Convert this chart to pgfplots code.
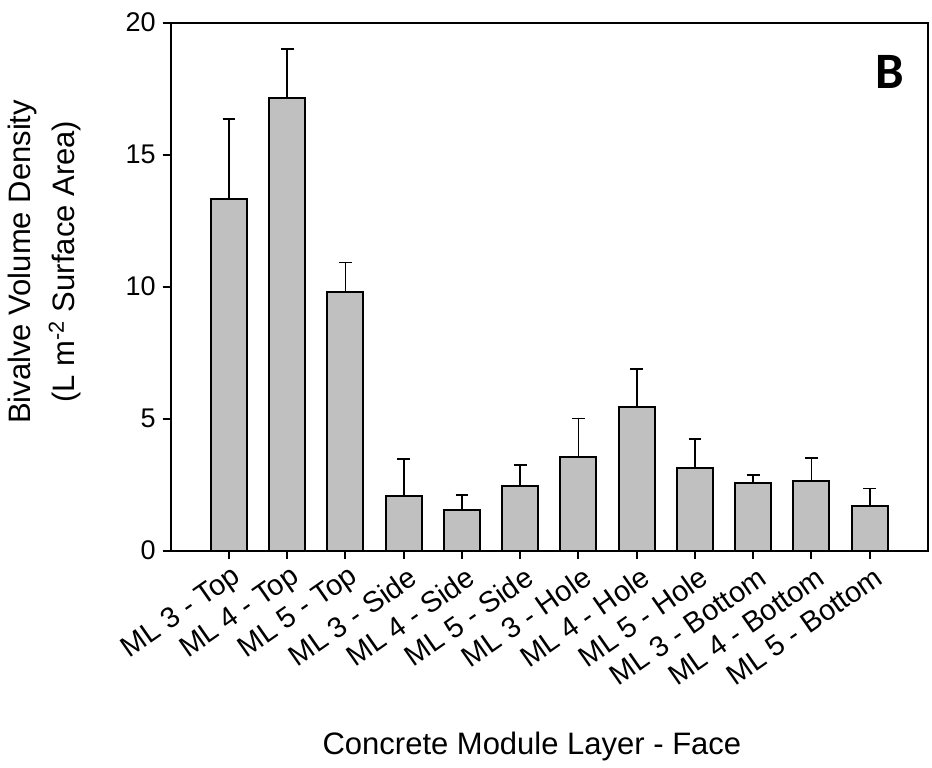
\documentclass[border=0pt]{standalone}
\usepackage{fontspec}
\setmainfont{Liberation Sans}
\newfontfamily\calib{Carlito}
\usepackage{pgfplots}
\usepackage{pgfplotstable}
\pgfplotsset{compat=1.18}
\definecolor{barfill}{RGB}{192,192,192}

\pgfplotstableread{
x   y      err
0   13.32  3.04
1   17.14  1.86
2   9.81   1.11
3   2.08   1.38
4   1.53   0.57
5   2.44   0.81
6   3.55   1.46
7   5.45   1.42
8   3.12   1.11
9   2.55   0.32
10  2.64   0.86
11  1.70   0.66
}\density

\begin{document}
\begin{tikzpicture}
\begin{axis}[
    scale only axis,
    width=378.7pt, height=264pt,
    xmin=-1, xmax=12,
    ymin=0, ymax=20,
    ytick={0,5,10,15,20},
    xtick={0,...,11},
    xticklabels={ML 3 - Top, ML 4 - Top, ML 5 - Top, ML 3 - Side, ML 4 - Side, ML 5 - Side,
                 ML 3 - Hole, ML 4 - Hole, ML 5 - Hole, ML 3 - Bottom, ML 4 - Bottom, ML 5 - Bottom},
    xtick pos=bottom, ytick pos=left,
    tick align=outside,
    major tick length=4pt,
    every tick/.style={black, line width=1pt},
    axis line style={line width=1pt},
    /pgf/number format/assume math mode=true,
    yticklabel style={font=\fontsize{13.5}{15}\selectfont},
    xticklabel style={font=\fontsize{14.5}{16}\selectfont, rotate=35, anchor=east, inner sep=1pt, yshift=-9pt, xshift=0.5pt},
    xlabel={Concrete Module Layer - Face},
    xlabel style={font=\fontsize{15.5}{18}\selectfont, at={(rel axis cs:0.477,0)}, anchor=base, yshift=-102pt},
    ylabel={Bivalve Volume Density\\[4pt](L m\textsuperscript{-2} Surface Area)},
    ylabel style={font=\fontsize{15.5}{18}\selectfont, align=center, at={(rel axis cs:0,0.547)}, anchor=south, yshift=41.5pt},
    clip=false,
]
\addplot[ybar, bar width=18pt, fill=barfill, draw=black, line width=1pt,
    error bars/.cd, y dir=plus, y explicit,
    error bar style={line width=0.8pt, black},
    error mark options={rotate=90, mark size=3.2pt, line width=0.8pt, black}]
    table[x=x, y=y, y error=err]{\density};
\node[font=\calib\bfseries\fontsize{25.5}{28}\selectfont] at (rel axis cs:0.950,0.9076) {B};
\end{axis}
\path (current axis.south west) ++(-85.35pt,-107.65pt) coordinate (bbl);
\path (current axis.north east) ++(2pt,11.35pt) coordinate (btr);
\path (bbl) rectangle (btr);
\end{tikzpicture}
\end{document}
